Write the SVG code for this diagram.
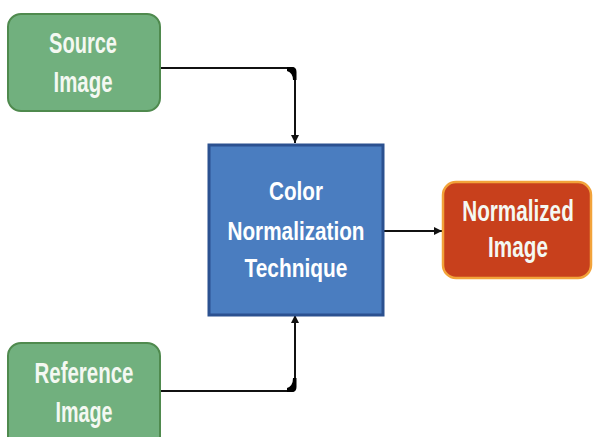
<svg xmlns="http://www.w3.org/2000/svg" width="593" height="437" viewBox="0 0 593 437">
<defs>
<style>
.lbl{font-family:"Liberation Sans",Arial,sans-serif;font-weight:bold;fill:#f4f8f2;text-anchor:middle}
.g{font-size:29px}
.r{font-size:30px}
.b{font-size:26px;fill:#fff}
.green{fill:#71b07e;stroke:#4f8a4e;stroke-width:2}
.blue{fill:#4a7dc0;stroke:#2b5190;stroke-width:3}
.red{fill:#c8401c;stroke:#f2a33a;stroke-width:2.5}
.wire{fill:none;stroke:#111;stroke-width:2}
.blob{fill:#000}
</style>
<marker id="ah" viewBox="0 0 8 8" refX="8" refY="4" markerWidth="4" markerHeight="4" orient="auto" markerUnits="strokeWidth">
<path d="M0,0 L8,4 L0,8 Z" fill="#111"/>
</marker>
</defs>
<rect width="593" height="437" fill="#fff"/>
<g id="connectors">
<path class="wire" d="M160,68 H291 Q295,68 295,72 V143" marker-end="url(#ah)"/>
<path class="blob" d="M287,67 H292 Q296.5,67 296.5,72 V80 H293 Q293,73 287,71 Z"/>
<path class="wire" d="M160,391 H291 Q295,391 295,387 V315" marker-end="url(#ah)"/>
<path class="blob" d="M287,392 H292 Q296.5,392 296.5,387 V378 H293 Q293,386 287,388 Z"/>
<path class="wire" d="M383,231 H442" marker-end="url(#ah)"/>
</g>
<g id="source">
<rect class="green" x="8" y="14" width="152" height="97" rx="13"/>
<text class="lbl g" x="83" y="53" textLength="68" lengthAdjust="spacingAndGlyphs">Source</text>
<text class="lbl g" x="83" y="92" textLength="59" lengthAdjust="spacingAndGlyphs">Image</text>
</g>
<g id="reference">
<rect class="green" x="8" y="343" width="152" height="110" rx="13"/>
<text class="lbl g" x="84" y="383" textLength="99" lengthAdjust="spacingAndGlyphs">Reference</text>
<text class="lbl g" x="84" y="422" textLength="57" lengthAdjust="spacingAndGlyphs">Image</text>
</g>
<g id="technique">
<rect class="blue" x="209" y="145" width="174" height="170"/>
<text class="lbl b" x="296" y="200" textLength="54" lengthAdjust="spacingAndGlyphs">Color</text>
<text class="lbl b" x="296" y="240" textLength="137" lengthAdjust="spacingAndGlyphs">Normalization</text>
<text class="lbl b" x="296" y="277" textLength="103" lengthAdjust="spacingAndGlyphs">Technique</text>
</g>
<g id="normalized">
<rect class="red" x="443" y="182" width="148" height="96" rx="13"/>
<text class="lbl r" transform="translate(518 221) scale(0.69 1)">Normalized</text>
<text class="lbl r" transform="translate(518 257) scale(0.69 1)">Image</text>
</g>
</svg>
